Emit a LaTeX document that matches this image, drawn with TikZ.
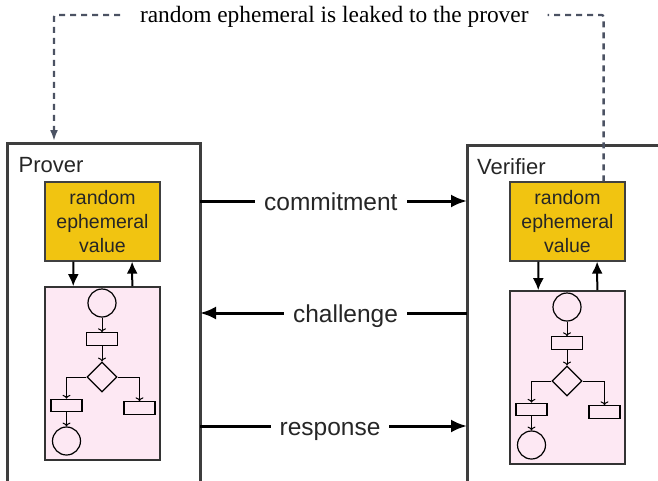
\documentclass[tikz,border=0pt]{standalone}
\usepackage{fontspec}
\setmainfont{Liberation Serif}
\setsansfont{Liberation Sans}
\usetikzlibrary{positioning,shapes.geometric,arrows.meta}

\definecolor{ephyellow}{RGB}{241,196,17}
\definecolor{procpink}{RGB}{253,232,243}
\definecolor{leakgray}{RGB}{75,82,99}
\definecolor{framegray}{RGB}{62,62,62}

\tikzset{
  party/.style={draw=framegray, line width=3pt, anchor=north west, minimum height=345pt, inner sep=0pt, outer sep=0pt},
  partyname/.style={anchor=base west, inner sep=0pt, font=\sffamily\fontsize{22}{26}\selectfont, text=black!85},
  ephval/.style={draw=black!75, line width=1.2pt, fill=ephyellow, minimum width=115pt, minimum height=79pt, align=center, inner sep=0pt, font=\sffamily\fontsize{19.5}{23.7}\selectfont, text=black!85},
  procbox/.style={draw=black!80, line width=1.6pt, fill=procpink, minimum width=115pt, minimum height=173pt, inner sep=0pt},
  fcirc/.style={draw, circle, line width=1.2pt, minimum size=28pt, inner sep=0pt},
  frect/.style={draw, line width=1.2pt, minimum width=31pt, minimum height=12.5pt, inner sep=0pt},
  fdia/.style={draw, diamond, line width=1.2pt, minimum width=30pt, minimum height=30pt, inner sep=0pt},
  fflow/.style={->, line width=1pt},
  link/.style={-{Latex[length=12pt,width=11pt]}, line width=2pt},
  msg/.style={-{Latex[length=16pt,width=13pt]}, line width=3pt},
  msglabel/.style={fill=white, anchor=base, yshift=-9.5pt, inner xsep=9pt, inner ysep=2pt, font=\sffamily\fontsize{24.5}{28}\selectfont, text=black!85},
  leak/.style={-{Latex[length=11pt,width=8pt]}, draw=leakgray, line width=2.3pt, dash pattern=on 6pt off 5pt, rounded corners=2pt},
  leaklabel/.style={fill=white, anchor=base, yshift=-7pt, inner xsep=19pt, inner ysep=1pt, font=\fontsize{23.4}{28}\selectfont, text=black},
}

\begin{document}
\begin{tikzpicture}[x=1pt, y=-1pt]
  \useasboundingbox (0,0) rectangle (658,480);
  \clip (0,0) rectangle (658,480);

  % the two parties
  \node[party, minimum width=193pt] (prov) at (7,143) {};
  \node[party, minimum width=200pt] (verif) at (467,145) {};
  \node[partyname] (provname) at ([xshift=11.5pt, yshift=-29pt]prov.north west) {Prover};
  \node[partyname] (verifname) at ([xshift=10pt, yshift=-29pt]verif.north west) {Verifier};

  % ephemeral value and the process using it, one per party
  \foreach \p/\dx/\dy in {p/0/0, v/465/4}{
    \begin{scope}[shift={(\dx,0)}]
      \node[ephval] (\p rnd) at (102.5,221.5) {random\\ephemeral\\value};
    \end{scope}
    \begin{scope}[shift={(\dx,\dy)}]
      \node[procbox] (\p proc) at (102.5,373.5) {};
      \node[fcirc] (\p start) at (102,303) {};
      \node[frect] (\p op) at (102,339) {};
      \node[fdia] (\p test) at (102,377) {};
      \node[frect] (\p left) at (66.5,405.5) {};
      \node[frect] (\p right) at (139.5,408) {};
      \node[fcirc] (\p stop) at (66.5,441) {};
    \end{scope}
    \draw[link] ([xshift=29pt]\p rnd.south west) -- ([xshift=29pt]\p proc.north west);
    \draw[link] ([xshift=-28.5pt]\p proc.north east) -- ([xshift=-28.5pt]\p rnd.south east);
    \draw[fflow] (\p start) -- (\p op);
    \draw[fflow] (\p op) -- (\p test);
    \draw[fflow] (\p test.west) -| (\p left);
    \draw[fflow] (\p test.east) -| (\p right);
    \draw[fflow] (\p left) -- (\p stop);
  }

  % messages
  \draw[msg] (prov.east |- 0,201) -- node[msglabel, pos=0.49] {commitment} (verif.west |- 0,201);
  \draw[msg] (verif.west |- 0,313) -- node[msglabel, pos=0.455] {challenge} (prov.east |- 0,313);
  \draw[msg] (prov.east |- 0,426) -- node[msglabel, pos=0.487] {response} (verif.west |- 0,426);

  % the leak
  \coordinate (leakstart) at ([xshift=-22pt]vrnd.north east);
  \coordinate (leakend) at ([xshift=47pt, yshift=2pt]prov.north west);
  \draw[leak] (leakstart) -- (leakstart |- 0,15) -- node[leaklabel, pos=0.49] {random ephemeral is leaked to the prover} (leakend |- 0,15) -- (leakend);
\end{tikzpicture}
\end{document}
